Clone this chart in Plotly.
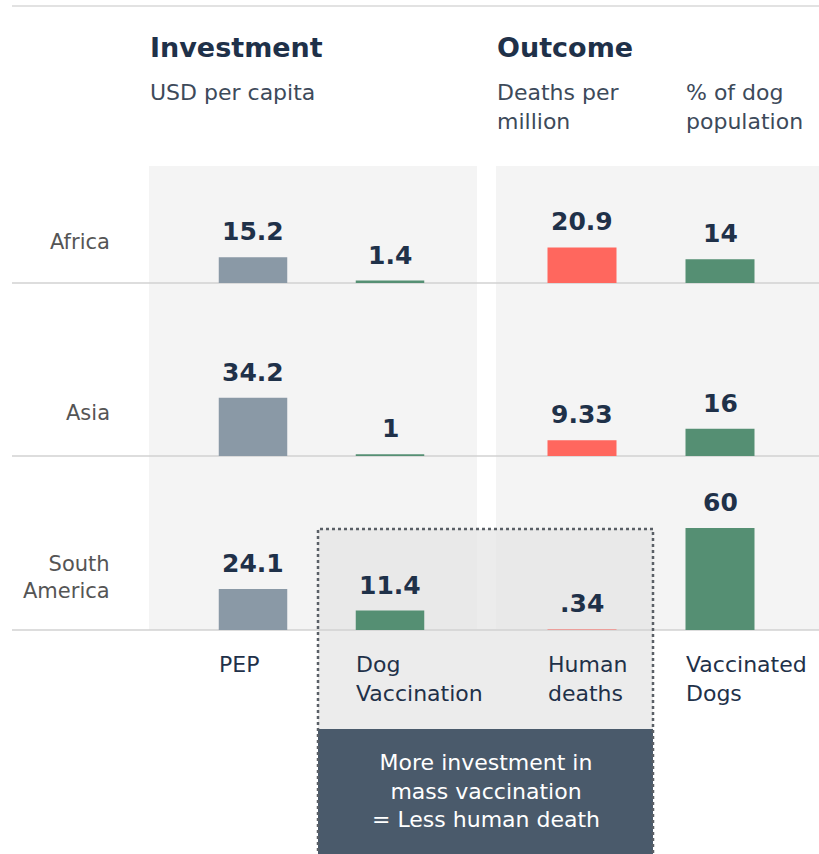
import plotly.graph_objects as go

# ---------------- data ----------------
regions = ["Africa", "Asia", "South<br>America"]
invest_cats = ["PEP", "Dog Vaccination"]
outcome_cats = ["Human deaths", "Vaccinated Dogs"]
pep = [15.2, 34.2, 24.1]            # USD per capita
dog_vacc = [1.4, 1.0, 11.4]         # USD per capita
human_deaths = [20.9, 9.33, 0.34]   # deaths per million
vacc_dogs = [14, 16, 60]            # % of dog population
col_labels = ["PEP", "Dog<br>Vaccination", "Human<br>deaths", "Vaccinated<br>Dogs"]

# ---------------- style ----------------
W, H = 819, 854
FONT = "DejaVu Sans"
NAVY = "#1f3149"
SUB = "#3d4a5a"
ROWLAB = "#555555"
C_PEP = "#8a99a6"
C_GREEN = "#558f73"
C_RED = "#ff675e"
C_PANEL = "#f4f4f4"


def px_x(p):
    return p / W


def px_y(p):
    return 1 - p / H


baselines = [283, 456, 630]
ROW_H = 170
Y_MAX = 100  # units across ROW_H pixels

fig = go.Figure()


def fmt(v):
    s = f"{v:g}"
    if s.startswith("0."):
        s = s[1:]
    return s


layout_axes = {}
layout_axes["xaxis"] = dict(domain=[px_x(184.5), px_x(458.5)], type="category",
                            categoryorder="array", categoryarray=invest_cats,
                            range=[-0.5, 1.5], visible=False, fixedrange=True)
layout_axes["xaxis2"] = dict(domain=[px_x(513), px_x(789)], type="category",
                             categoryorder="array", categoryarray=outcome_cats,
                             range=[-0.5, 1.5], visible=False, fixedrange=True)

annotations = []
for r in range(3):
    yname = "yaxis" if r == 0 else f"yaxis{r + 1}"
    yref = "y" if r == 0 else f"y{r + 1}"
    b = baselines[r]
    layout_axes[yname] = dict(domain=[px_y(b), px_y(b - ROW_H)], range=[0, Y_MAX],
                              visible=False, fixedrange=True, anchor="x")
    inv_vals = [pep[r], dog_vacc[r]]
    out_vals = [human_deaths[r], vacc_dogs[r]]
    fig.add_trace(go.Bar(x=invest_cats, y=inv_vals, width=0.5,
                         marker=dict(color=[C_PEP, C_GREEN], line=dict(width=0)),
                         xaxis="x", yaxis=yref, hoverinfo="skip", showlegend=False))
    fig.add_trace(go.Bar(x=outcome_cats, y=out_vals, width=0.5,
                         marker=dict(color=[C_RED, C_GREEN], line=dict(width=0)),
                         xaxis="x2", yaxis=yref, hoverinfo="skip", showlegend=False))
    for xr, cats, vals in (("x", invest_cats, inv_vals), ("x2", outcome_cats, out_vals)):
        for c, v in zip(cats, vals):
            annotations.append(dict(x=c, y=v, xref=xr, yref=yref, text=f"<b>{fmt(v)}</b>",
                                    showarrow=False, yanchor="bottom", xanchor="center",
                                    yshift=9, font=dict(family=FONT, size=25, color=NAVY)))

# row labels
row_label_y = [242, 413, 577]
for lab, yy in zip(regions, row_label_y):
    annotations.append(dict(x=px_x(112), y=px_y(yy), xref="paper", yref="paper", text=lab,
                            showarrow=False, xanchor="right", yanchor="middle", align="right",
                            font=dict(family=FONT, size=21, color=ROWLAB)))

# column labels (bottom)
for i, lab in enumerate(col_labels):
    xr = "x" if i < 2 else "x2"
    cat = (invest_cats + outcome_cats)[i]
    annotations.append(dict(x=cat, y=px_y(650), xref=xr, yref="paper", text=lab,
                            showarrow=False, xanchor="left", yanchor="top", align="left",
                            xshift=-36, font=dict(family=FONT, size=22, color=NAVY)))

# headers
annotations += [
    dict(x=px_x(148), y=px_y(48), text="<b>Investment</b>", xanchor="left", yanchor="middle",
         font=dict(family=FONT, size=27, color=NAVY)),
    dict(x=px_x(495), y=px_y(48), text="<b>Outcome</b>", xanchor="left", yanchor="middle",
         font=dict(family=FONT, size=27, color=NAVY)),
    dict(x=px_x(148), y=px_y(78), text="USD per capita", xanchor="left", yanchor="top",
         align="left", font=dict(family=FONT, size=22, color=SUB)),
    dict(x=px_x(495), y=px_y(78), text="Deaths per<br>million", xanchor="left", yanchor="top",
         align="left", font=dict(family=FONT, size=22, color=SUB)),
    dict(x=px_x(684), y=px_y(78), text="% of dog<br>population", xanchor="left", yanchor="top",
         align="left", font=dict(family=FONT, size=22, color=SUB)),
    dict(x=px_x(485.5), y=px_y(791), text="More investment in<br>mass vaccination<br>= Less human death",
         xanchor="center", yanchor="middle", align="center",
         font=dict(family=FONT, size=22, color="white")),
]
for a in annotations[-6:]:
    a.update(xref="paper", yref="paper", showarrow=False)

shapes = [
    dict(type="line", x0=px_x(12), x1=1, y0=px_y(6), y1=px_y(6), xref="paper", yref="paper",
         line=dict(color="#e2e2e2", width=2), layer="below"),
    dict(type="rect", x0=px_x(149), x1=px_x(477), y0=px_y(630), y1=px_y(166), xref="paper",
         yref="paper", fillcolor=C_PANEL, line=dict(width=0), layer="below"),
    dict(type="rect", x0=px_x(496), x1=1, y0=px_y(630), y1=px_y(166), xref="paper",
         yref="paper", fillcolor=C_PANEL, line=dict(width=0), layer="below"),
    dict(type="rect", x0=px_x(318), x1=px_x(653), y0=px_y(729), y1=px_y(529), xref="paper",
         yref="paper", fillcolor="rgba(229,229,229,0.73)", line=dict(width=0), layer="below"),
]
for b in baselines:
    shapes.append(dict(type="line", x0=px_x(12), x1=1, y0=px_y(b), y1=px_y(b), xref="paper",
                       yref="paper", line=dict(color="#d2d2d2", width=1.5), layer="below"))
shapes += [
    dict(type="rect", x0=px_x(318), x1=px_x(653), y0=0, y1=px_y(729), xref="paper",
         yref="paper", fillcolor="#4a5a6b", line=dict(width=0), layer="below"),
    dict(type="rect", x0=px_x(318), x1=px_x(653), y0=px_y(860), y1=px_y(529), xref="paper",
         yref="paper", fillcolor="rgba(0,0,0,0)", line=dict(color="#5a5f66", width=2.5, dash="dot"),
         layer="above"),
]

fig.update_layout(
    width=W, height=H, margin=dict(l=0, r=0, t=0, b=0),
    paper_bgcolor="white", plot_bgcolor="rgba(0,0,0,0)",
    barmode="group", showlegend=False,
    annotations=annotations, shapes=shapes,
    font=dict(family=FONT),
    **layout_axes,
)

fig.write_html("out.html", config=dict(displayModeBar=False, staticPlot=True))
